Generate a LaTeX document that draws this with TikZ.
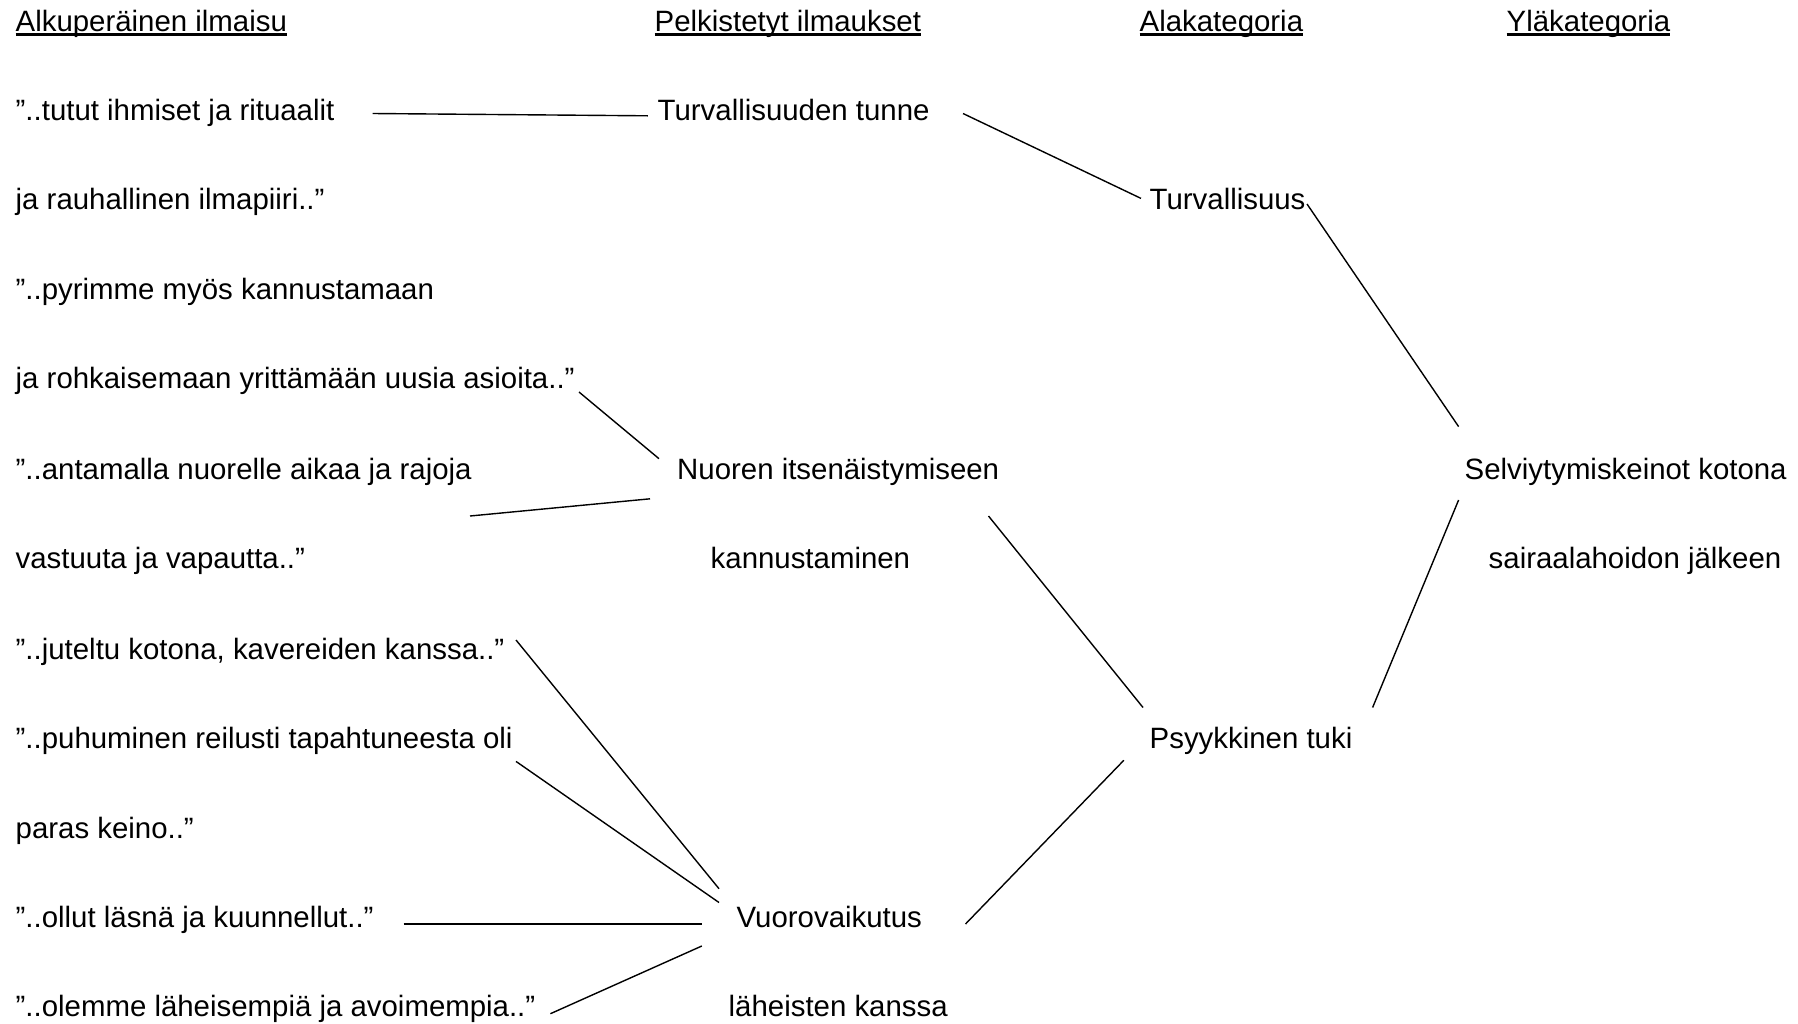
\documentclass[tikz,border=0pt]{standalone}
\usepackage{fontspec}
\setmainfont{Liberation Sans}
\newcommand{\headline}[1]{\setbox0\hbox{#1}\rlap{\rule[-2.5pt]{\wd0}{1.5pt}}\box0}

\begin{document}
\begin{tikzpicture}[x=0.5pt, y=-0.5pt, line width=0.7pt]
  % Style definitions
  \tikzstyle{txt} = [anchor=base west, inner sep=0pt, font=\fontsize{14.7}{17}\selectfont]
  \tikzstyle{head} = [txt]

  \useasboundingbox (0,0) rectangle (1798,1023);

  % Headers
  \node (hOrig) [head] at (15,31) {\headline{Alkuperäinen ilmaisu}};
  \node (hPelk) [head] at (654,31) {\headline{Pelkistetyt ilmaukset}};
  \node (hAla) [head] at (1139,31) {\headline{Alakategoria}};
  \node (hYla) [head] at (1506,31) {\headline{Yläkategoria}};

  % Original expressions
  \node (q1) [txt] at (15,120) {”..tutut ihmiset ja rituaalit};
  \node (q2) [txt] at (15,209.5) {ja rauhallinen ilmapiiri..”};
  \node (q3) [txt] at (15,299) {”..pyrimme myös kannustamaan};
  \node (q4) [txt] at (15,388.4) {ja rohkaisemaan yrittämään uusia asioita..”};
  \node (q5) [txt] at (15,479) {”..antamalla nuorelle aikaa ja rajoja};
  \node (q6) [txt] at (15,568.4) {vastuuta ja vapautta..”};
  \node (q7) [txt] at (15,659) {”..juteltu kotona, kavereiden kanssa..”};
  \node (q8) [txt] at (15,748.5) {”..puhuminen reilusti tapahtuneesta oli};
  \node (q9) [txt] at (15,838) {paras keino..”};
  \node (q10) [txt] at (15,927.4) {”..ollut läsnä ja kuunnellut..”};
  \node (q11) [txt] at (15,1016.8) {”..olemme läheisempiä ja avoimempia..”};

  % Reduced expressions
  \node (turvTunne) [txt] at (657,120) {Turvallisuuden tunne};
  \node (nuoren) [txt] at (676.5,479) {Nuoren itsenäistymiseen};
  \node (kannus) [txt] at (710,568.4) {kannustaminen};
  \node (vuoro) [txt] at (736,927.4) {Vuorovaikutus};
  \node (laheis) [txt] at (728,1016.8) {läheisten kanssa};

  % Subcategories
  \node (turv) [txt] at (1149,209.5) {Turvallisuus};
  \node (psyk) [txt] at (1149,748.5) {Psyykkinen tuki};

  % Main category
  \node (selv) [txt] at (1464,479) {Selviytymiskeinot kotona};
  \node (sair) [txt] at (1488,568.4) {sairaalahoidon jälkeen};

  % Connector ends
  \coordinate (q1r) at (372.7,113.5);
  \coordinate (turvTunneL) at (647.9,115.8);
  \coordinate (turvTunneR) at (963,113.5);
  \coordinate (turvL) at (1141,198.4);
  \coordinate (turvR) at (1307,204);
  \coordinate (selvUp) at (1458.6,426.6);
  \coordinate (selvDown) at (1458.6,500);
  \coordinate (q4r) at (579,392);
  \coordinate (nuorenUp) at (659,458.7);
  \coordinate (q5r) at (470,516);
  \coordinate (nuorenDown) at (650,498.8);
  \coordinate (nuorenR) at (988.5,516);
  \coordinate (psykUp) at (1143,707.5);
  \coordinate (psykR) at (1372.6,707.5);
  \coordinate (psykDown) at (1123.8,760.3);
  \coordinate (q7r) at (516,640);
  \coordinate (vuoroA) at (719,888.7);
  \coordinate (q8r) at (516,761.4);
  \coordinate (vuoroB) at (719,902.5);
  \coordinate (q10r) at (403.6,924);
  \coordinate (vuoroL) at (701.8,924);
  \coordinate (q11r) at (550.4,1013.7);
  \coordinate (vuoroC) at (701.8,946);
  \coordinate (vuoroR) at (965.5,924);

  % Lines
  \draw (q1r) -- (turvTunneL);
  \draw (turvTunneR) -- (turvL);
  \draw (turvR) -- (selvUp);
  \draw (q4r) -- (nuorenUp);
  \draw (q5r) -- (nuorenDown);
  \draw (nuorenR) -- (psykUp);
  \draw (selvDown) -- (psykR);
  \draw (q7r) -- (vuoroA);
  \draw (q8r) -- (vuoroB);
  \draw (q10r) -- (vuoroL);
  \draw (q11r) -- (vuoroC);
  \draw (vuoroR) -- (psykDown);
\end{tikzpicture}
\end{document}
